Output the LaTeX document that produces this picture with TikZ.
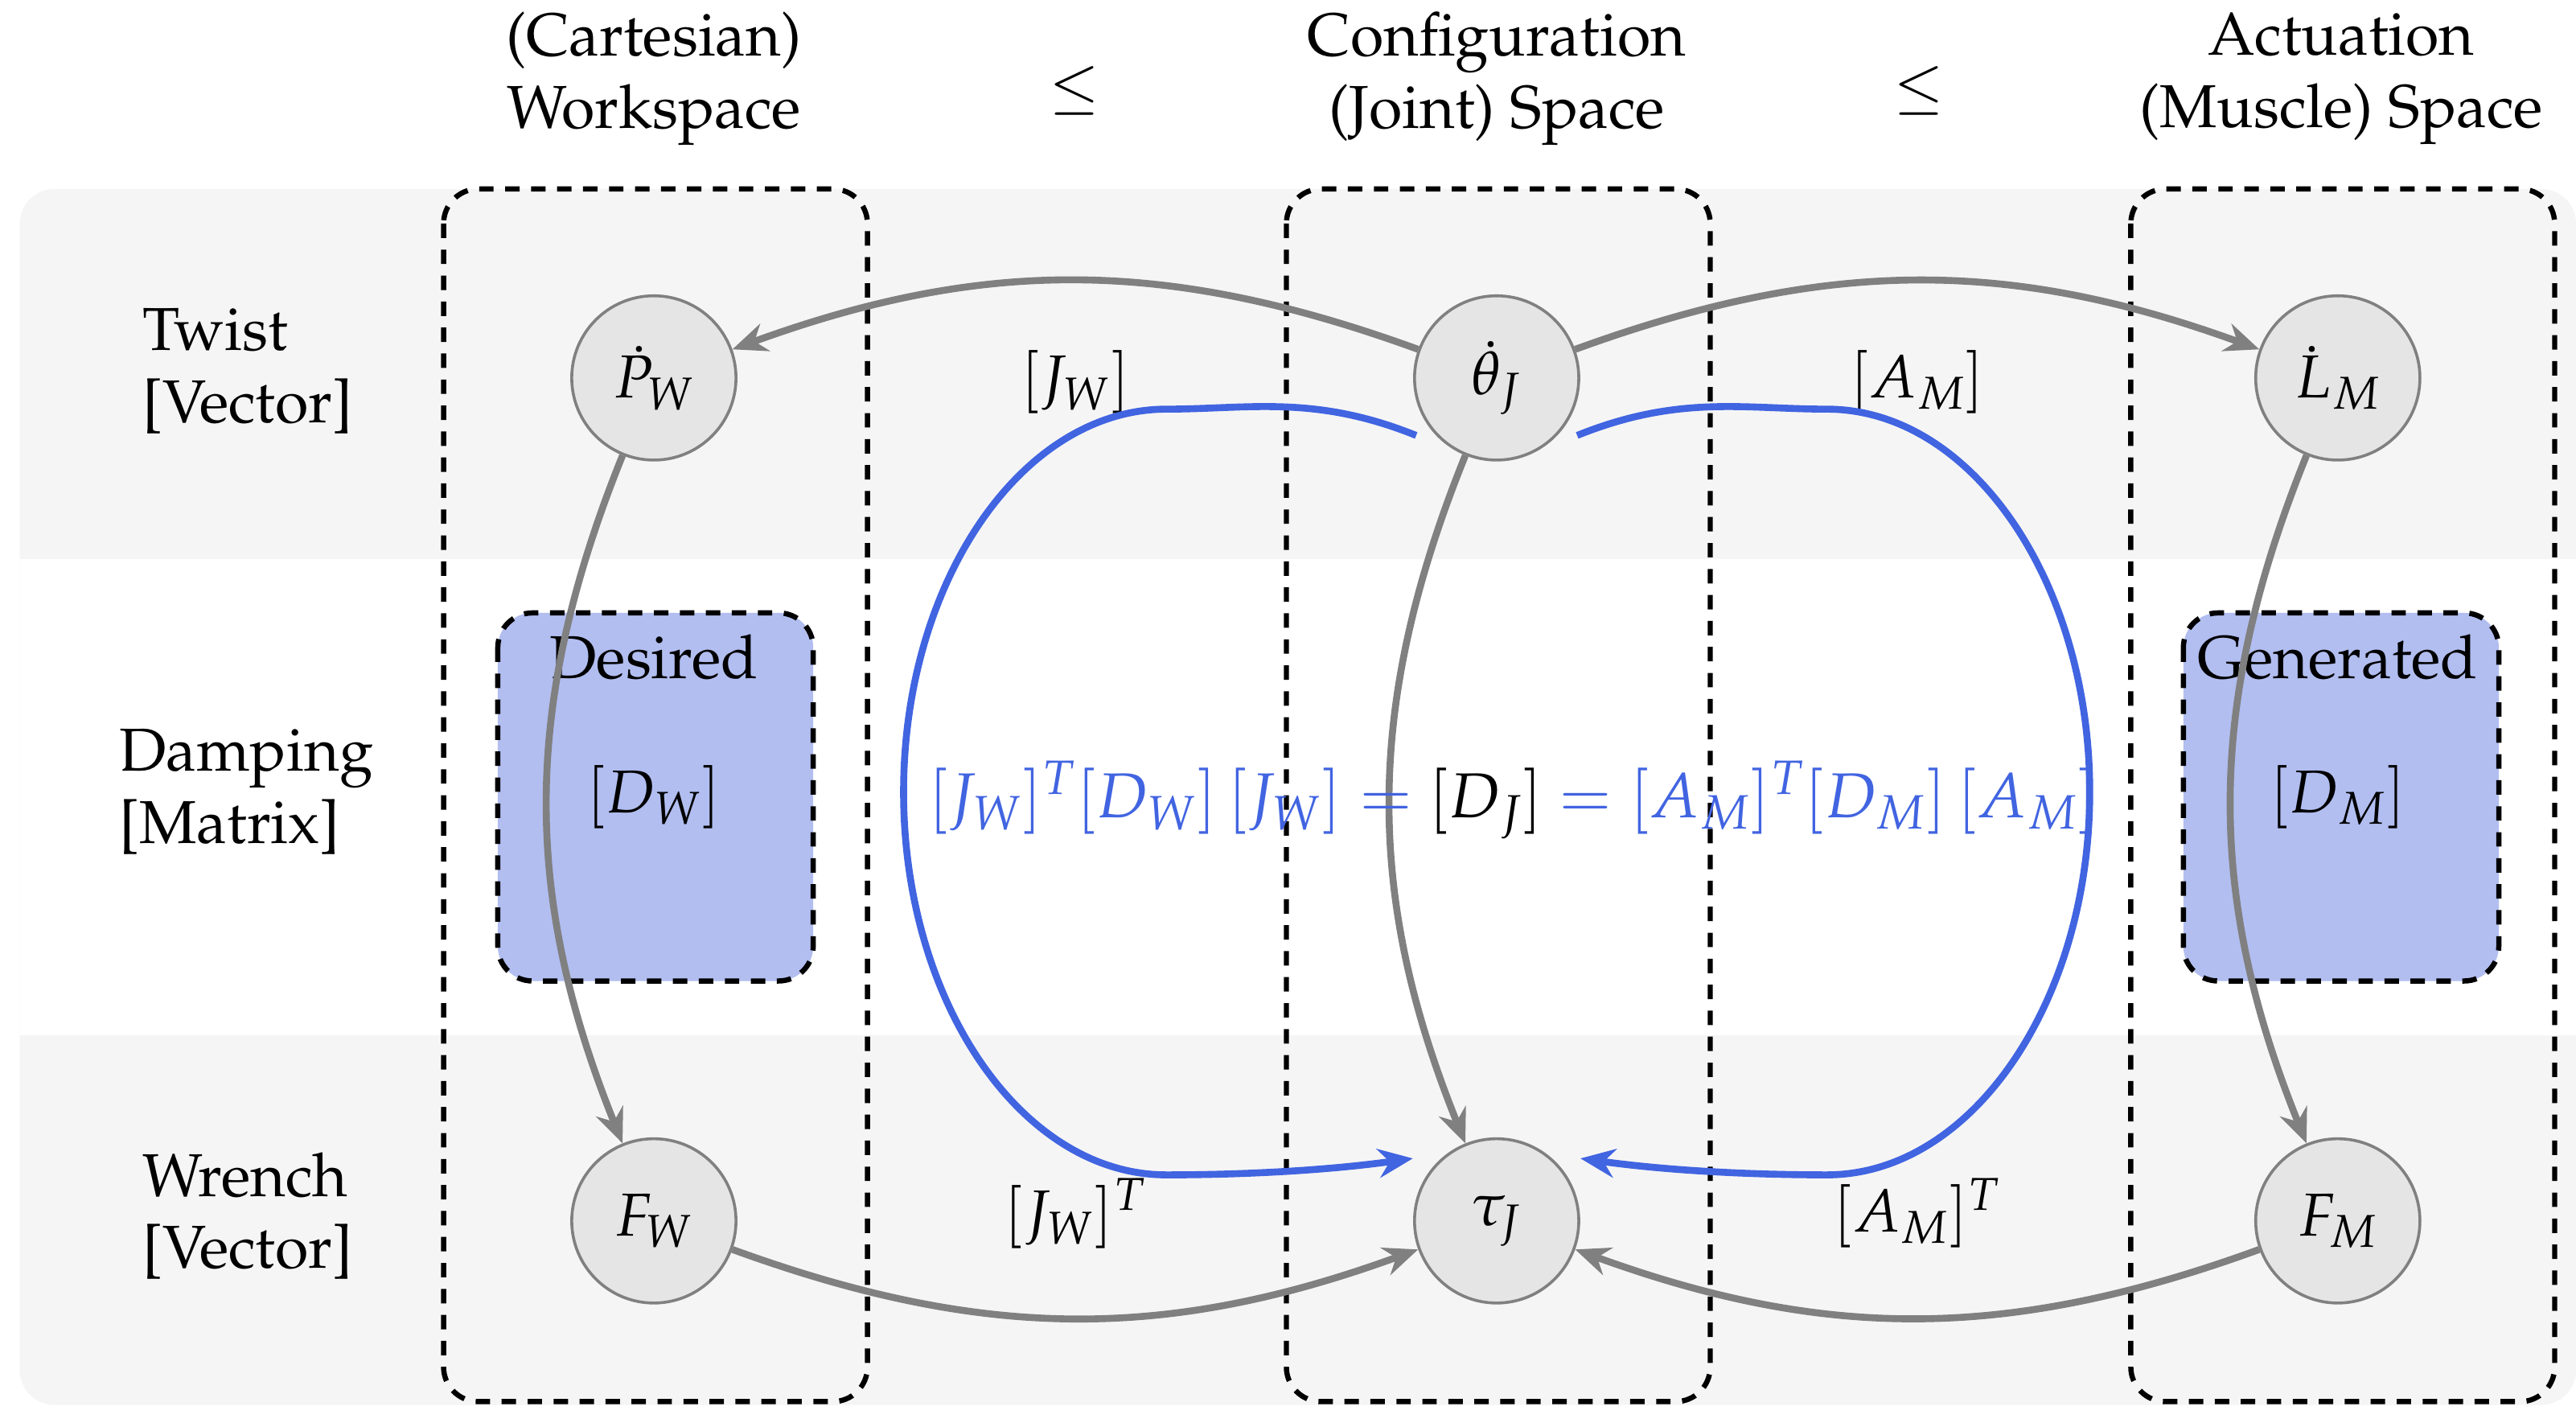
\documentclass[tikz,border=0pt]{standalone}
\usepackage[T1]{fontenc}
\usepackage{mathpazo}
\renewcommand{\rmdefault}{ppl}
\usetikzlibrary{arrows.meta}
\definecolor{rb}{RGB}{65,100,225}
\definecolor{bx}{RGB}{178,190,240}
\definecolor{bg}{RGB}{245,245,245}
\begin{document}
\rmfamily\fontsize{21}{25}\selectfont
\begin{tikzpicture}[x=0.02cm,y=-0.02cm,
 st/.style={circle,draw=gray,fill=gray!20,line width=1pt,minimum size=2cm,inner sep=0pt},
 ga/.style={draw=gray,line width=2.4pt,-{Stealth[length=12pt,width=10pt]}},
 ba/.style={draw=rb,line width=2.4pt,-{Stealth[length=12pt,width=10pt]}},
 col/.style={draw,line width=1.8pt,dash pattern=on 5pt off 4pt,rounded corners=12pt},
 txt/.style={align=center,font=\rmfamily\fontsize{21}{25}\selectfont}]
\useasboundingbox (0,0) rectangle (1568,868);
\fill[bg,rounded corners=12pt] (12,115) rectangle (1568,855);
\fill[white] (12,340) rectangle (1568,630);
\node[txt] (h1) at (398,48) {(Cartesian)\\Workspace};
\node[txt] (le1) at (654,55) {$\leq$};
\node[txt] (h2) at (911,48) {Configuration\\(Joint) Space};
\node[txt] (le2) at (1168,55) {$\leq$};
\node[txt] (h3) at (1425,48) {Actuation\\(Muscle) Space};
\node[txt,align=left,anchor=west] (r1) at (74,226) {Twist\\{[Vector]}};
\node[txt,align=left,anchor=west] (r2) at (60,482) {Damping\\{[Matrix]}};
\node[txt,align=left,anchor=west] (r3) at (74,740) {Wrench\\{[Vector]}};
\draw[col] (270,115) rectangle (528,853);
\draw[col] (783,115) rectangle (1041,853);
\draw[col] (1297,115) rectangle (1555,853);
\draw[col,fill=bx] (303,373) rectangle (495,597);
\draw[col,fill=bx] (1329,373) rectangle (1521,597);
\node[txt] (d1) at (398,400) {Desired};
\node[txt] (dw) at (398,485) {$[D_W]$};
\node[txt] (d2) at (1423,400) {Generated};
\node[txt] (dm) at (1423,485) {$[D_M]$};
\node[st] (pw) at (398,230) {$\dot P_W$};
\node[st] (th) at (911,230) {$\dot\theta_J$};
\node[st] (lm) at (1423,230) {$\dot L_M$};
\node[st] (fw) at (398,743) {$F_W$};
\node[st] (tau) at (911,743) {$\tau_J$};
\node[st] (fm) at (1423,743) {$F_M$};
\draw[ga] (th) to[bend right=20] node[pos=0.5,below=16pt,text=black] {$[J_W]$} (pw);
\draw[ga] (th) to[bend left=20] node[pos=0.5,below=16pt,text=black] {$[A_M]$} (lm);
\draw[ga] (fw) to[bend right=20] node[pos=0.5,above=16pt,text=black] {$[J_W]^T$} (tau);
\draw[ga] (fm) to[bend left=20] node[pos=0.5,above=16pt,text=black] {$[A_M]^T$} (tau);
\draw[ga] (pw) to[bend right=22] (fw);
\draw[ga] (th) to[bend right=22] (tau);
\draw[ga] (lm) to[bend right=22] (fm);
\coordinate (a1) at (862,265); \coordinate (a2) at (860,705);
\coordinate (b1) at (960,265); \coordinate (b2) at (962,705);
\draw[ba] (a1) .. controls (800,240) and (760,249) .. (710,249) .. controls (622,249) and (550,354) .. (550,482) .. controls (550,610) and (622,715) .. (710,715) .. controls (760,715) and (810,712) .. (a2);
\draw[ba] (b1) .. controls (1022,240) and (1062,249) .. (1112,249) .. controls (1200,249) and (1272,354) .. (1272,482) .. controls (1272,610) and (1200,715) .. (1112,715) .. controls (1062,715) and (1012,712) .. (b2);
\node[txt,font=\rmfamily\fontsize{22}{26}\selectfont] (eq) at (921,487) {\textcolor{rb}{$[J_W]^T[D_W]\,[J_W]=$} $[D_J]$ \textcolor{rb}{$=[A_M]^T[D_M]\,[A_M]$}};
\end{tikzpicture}
\end{document}
